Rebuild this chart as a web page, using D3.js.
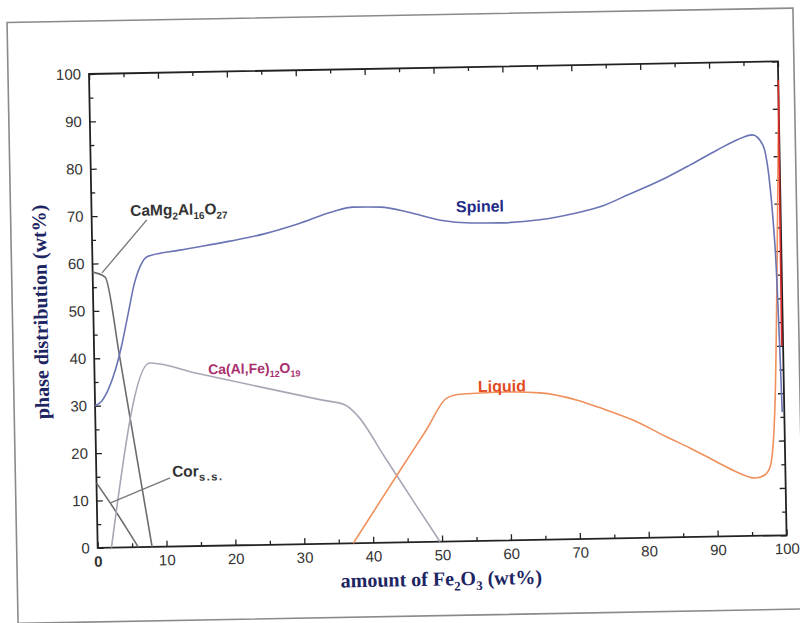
<!DOCTYPE html>
<html>
<head>
<meta charset="utf-8">
<script src="https://cdn.jsdelivr.net/npm/d3@7"></script>
<style>
  html, body { margin: 0; padding: 0; background: #fff; }
  svg { display: block; }
  .tick text { font-family: "Liberation Sans", Arial, sans-serif; font-size: 15px; fill: #333; }
</style>
</head>
<body>
<svg id="chart" width="800" height="623"></svg>
<script>
// Phase distribution vs. Fe2O3 content (wt%)
const xTicks = [0, 10, 20, 30, 40, 50, 60, 70, 80, 90, 100];
const yTicks = [0, 10, 20, 30, 40, 50, 60, 70, 80, 90, 100];

const spinelX = [0, 1, 2, 3, 4, 5, 6, 7, 8, 12.7, 20, 25, 30, 35, 38, 42, 46, 50.6, 55, 59.3, 65, 70, 73.8, 78, 83.6, 87, 90.9, 94, 96.1, 97.6, 99.1, 99.5, 99.7];
const spinelY = [30, 31, 33.5, 37.3, 42.5, 49, 55.5, 59.5, 61.3, 62.5, 64.2, 65.6, 67.6, 70, 70.9, 70.8, 69.6, 67.8, 67.1, 67.0, 67.5, 68.7, 70.0, 72.5, 76.0, 78.5, 81.5, 83.7, 84.6, 82.4, 60.8, 40, 26];

const liquidX = [37.1, 40, 44, 48, 51.1, 53, 56, 60, 64.6, 70, 73.3, 78, 82.9, 86.2, 90, 93, 95.6, 97, 97.8, 98.7, 99.4, 100];
const liquidY = [0, 6.3, 15, 23.6, 30.3, 31.0, 31.2, 31.3, 31.0, 29.3, 27.6, 24.9, 21.2, 18.8, 15.8, 13.5, 12.2, 12.8, 14.5, 28.6, 60, 92];

const hibX = [2, 8, 15, 25, 33, 36.3, 38, 42, 46, 49.7];
const hibY = [0, 38.8, 36.4, 33.0, 30.3, 29.2, 27, 17.8, 8.5, 0];

const cma2X = [0, 1.8, 3.7, 7.9];
const cma2Y = [58.2, 57.1, 40.2, 0];

const corX = [0, 2, 4, 5.9];
const corY = [13.7, 9.3, 4.6, 0];

const edgeX = [99.8, 99.9, 100];
const edgeY = [40, 70, 96];

// leader lines for the two left-hand labels
const cma2LeaderX = [8.0, 1.36];
const cma2LeaderY = [69.0, 58.0];
const corLeaderX = [10.7, 1.9];
const corLeaderY = [14.5, 9.4];

const W = 689, H = 474;
const svg = d3.select("#chart");

// outer figure frame
svg.append("g").attr("transform", "translate(89,74) rotate(-1.05)")
  .append("rect")
  .attr("x", -81).attr("y", -53).attr("width", 786).attr("height", 601)
  .attr("fill", "none").attr("stroke", "#8a8a8a").attr("stroke-width", 1.6);

const g = svg.append("g").attr("transform", "translate(89,74) rotate(-1.05)");

const x = d3.scaleLinear().domain([0, 100]).range([0, W]);
const y = d3.scaleLinear().domain([0, 100]).range([H, 0]);

const minor = d3.range(5, 100, 10);

// axes with inward ticks
const axB = g.append("g").attr("transform", `translate(0,${H})`)
  .call(d3.axisBottom(x).tickValues(xTicks).tickSize(-6).tickPadding(8).tickFormat(d3.format("d")));
axB.selectAll(".tick text").filter(d => d === 0).attr("font-weight", "bold");
g.append("g").attr("transform", `translate(0,${H})`)
  .call(d3.axisBottom(x).tickValues(minor).tickSize(-4).tickFormat(""));
g.append("g").call(d3.axisTop(x).tickValues(xTicks).tickSize(-6).tickFormat(""));
g.append("g").call(d3.axisTop(x).tickValues(minor).tickSize(-4).tickFormat(""));

g.append("g")
  .call(d3.axisLeft(y).tickValues(yTicks).tickSize(-6).tickPadding(8).tickFormat(d3.format("d")));
g.append("g").call(d3.axisLeft(y).tickValues(minor).tickSize(-4).tickFormat(""));
g.append("g").attr("transform", `translate(${W},0)`)
  .call(d3.axisRight(y).tickValues(yTicks).tickSize(-6).tickFormat(""));
g.append("g").attr("transform", `translate(${W},0)`)
  .call(d3.axisRight(y).tickValues(minor).tickSize(-4).tickFormat(""));

g.selectAll(".domain").remove();
g.selectAll(".tick line").attr("stroke", "#222").attr("stroke-width", 1.3);

// plot frame
g.append("rect").attr("x", 0).attr("y", 0).attr("width", W).attr("height", H)
  .attr("fill", "none").attr("stroke", "#222").attr("stroke-width", 1.8);

const line = d3.line().x(d => x(d[0])).y(d => y(d[1])).curve(d3.curveMonotoneX);
const straight = d3.line().x(d => x(d[0])).y(d => y(d[1]));
const zip = (a, b) => a.map((v, i) => [v, b[i]]);

const series = [
  { xs: corX, ys: corY, color: "#6c6c70", gen: line },
  { xs: cma2X, ys: cma2Y, color: "#6c6c70", gen: line },
  { xs: hibX, ys: hibY, color: "#aaa6b6", gen: line },
  { xs: liquidX, ys: liquidY, color: "#f0905c", gen: line },
  { xs: edgeX, ys: edgeY, color: "#d8282a", gen: straight },
  { xs: spinelX, ys: spinelY, color: "#6a74b4", gen: line }
];
series.forEach(s => {
  g.append("path").attr("d", s.gen(zip(s.xs, s.ys)))
    .attr("fill", "none").attr("stroke", s.color).attr("stroke-width", 1.6)
    .attr("stroke-linejoin", "round");
});

[[cma2LeaderX, cma2LeaderY], [corLeaderX, corLeaderY]].forEach(([lx, ly]) => {
  g.append("path").attr("d", straight(zip(lx, ly)))
    .attr("fill", "none").attr("stroke", "#7a7a7a").attr("stroke-width", 1.4);
});

// series labels with subscripts
function label(px, py, parts, color, size, subScale) {
  const k = subScale || 0.64;
  const t = g.append("text").attr("x", x(px)).attr("y", y(py))
    .attr("font-family", "Liberation Sans, Arial, sans-serif")
    .attr("font-weight", "bold").attr("font-size", size).attr("fill", color);
  parts.forEach((p, i) => {
    const [str, sub] = p;
    const prevSub = i > 0 && parts[i - 1][1];
    if (sub) {
      t.append("tspan").attr("font-size", size * k).attr("dy", size * 0.28).text(str);
    } else {
      t.append("tspan").attr("dy", prevSub ? -size * 0.28 : 0).text(str);
    }
  });
  return t;
}

label(52.9, 69.4, [["Spinel"]], "#1f2b86", 16);
label(55.6, 31.4, [["Liquid"]], "#e24a22", 16);
label(16.5, 36.2, [["Ca(Al,Fe)"], ["12", 1], ["O"], ["19", 1]], "#a8306e", 14);
label(5.6, 69.9, [["CaMg"], ["2", 1], ["Al"], ["16", 1], ["O"], ["27", 1]], "#333", 15.5);
label(11.0, 14.7, [["Cor"], ["s.s.", 1]], "#333", 15.5, 0.72)
  .select("tspan:nth-child(2)").attr("letter-spacing", 1.5);

// axis titles
g.append("text")
  .attr("transform", `translate(-46,${H / 2}) rotate(-90)`)
  .attr("text-anchor", "middle")
  .attr("font-family", "Liberation Serif, 'Times New Roman', serif")
  .attr("font-weight", "bold").attr("font-size", 20).attr("fill", "#1d2562")
  .text("phase distribution (wt%)");

const xt = g.append("text")
  .attr("x", 343).attr("y", 518)
  .attr("text-anchor", "middle")
  .attr("font-family", "Liberation Serif, 'Times New Roman', serif")
  .attr("font-weight", "bold").attr("font-size", 20).attr("fill", "#1d2562");
xt.append("tspan").text("amount of Fe");
xt.append("tspan").attr("font-size", 13).attr("dy", 5).text("2");
xt.append("tspan").attr("dy", -5).text("O");
xt.append("tspan").attr("font-size", 13).attr("dy", 5).text("3");
xt.append("tspan").attr("dy", -5).text(" (wt%)");
</script>
</body>
</html>
